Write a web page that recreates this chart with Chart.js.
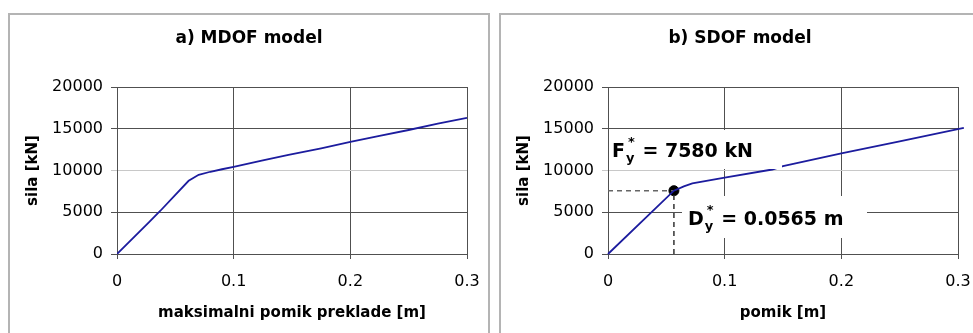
<!DOCTYPE html>
<html>
<head>
<meta charset="utf-8">
<script src="https://cdn.jsdelivr.net/npm/chart.js@4.4.1/dist/chart.umd.min.js"></script>
<style>
    html, body { margin: 0; padding: 0; background: #fff; width: 973px; height: 333px; overflow: hidden; }
    .panel { position: absolute; top: 13px; border: 2px solid #b4b4b4; background: #fff; height: 340px; }
    #panel-a { left: 8px; width: 478px; }
    #panel-b { left: 499px; width: 478px; }
    .panel canvas { position: absolute; left: 0; top: 0; }
</style>
</head>
<body>
<div class="panel" id="panel-a"><canvas id="chart-a" width="478" height="318"></canvas></div>
<div class="panel" id="panel-b"><canvas id="chart-b" width="478" height="318"></canvas></div>
<script>
// a) MDOF - sila vs. maksimalni pomik preklade
const mdofX = [0, 0.0273, 0.0372, 0.05, 0.0614, 0.065, 0.07, 0.08, 0.09, 0.1, 0.125, 0.147, 0.175, 0.2, 0.225, 0.25, 0.275, 0.3];
const mdofY = [0, 3800, 5180, 7080, 8770, 9070, 9490, 9850, 10150, 10440, 11200, 11860, 12650, 13430, 14150, 14850, 15600, 16300];

// b) SDOF - bilinearna krivulja
const sdofX = [0, 0.0565, 0.065, 0.0723, 0.1, 0.1408, 0.15, 0.2, 0.25, 0.305];
const sdofY = [0, 7580, 8100, 8450, 9150, 10120, 10520, 12040, 13500, 15100];

// tocka popustanja
const yieldD = 0.0565;
const yieldF = 7580;

const xTicks = [0, 0.1, 0.2, 0.3];
const yTicks = [0, 5000, 10000, 15000, 20000];

const FONT = "'DejaVu Sans', sans-serif";
const LINE_COLOR = '#1c1c9e';

function toPoints(xs, ys) {
    return xs.map((x, i) => ({ x: x, y: ys[i] }));
}

function gridColor(ctx) {
    // linija na 10000 je svjetlija
    if (ctx.tick && ctx.tick.value === 10000) return '#c8c8c8';
    return '#505050';
}

function makeOptions(title, xTitle) {
    return {
        responsive: false,
        animation: false,
        layout: { padding: 0 },
        plugins: {
            legend: { display: false },
            tooltip: { enabled: false },
            title: {
                display: true,
                text: title,
                color: '#000',
                font: { family: FONT, size: 17, weight: 'bold' },
                padding: { top: 13, bottom: 38.6 }
            }
        },
        scales: {
            x: {
                type: 'linear',
                min: 0,
                max: 0.3,
                afterBuildTicks: scale => { scale.ticks = xTicks.map(v => ({ value: v })); },
                afterFit: scale => {
                    scale.height = 79;
                    scale.paddingLeft = 0;
                    scale.paddingRight = 21;
                },
                ticks: {
                    color: '#000',
                    font: { family: FONT, size: 16 },
                    padding: 13,
                    callback: v => String(v)
                },
                grid: { color: '#505050', tickColor: '#505050', tickLength: 5, lineWidth: 1 },
                border: { color: '#505050' },
                title: {
                    display: true,
                    text: xTitle,
                    color: '#000',
                    font: { family: FONT, size: 15, weight: 'bold' },
                    padding: { top: 0, bottom: 11 }
                }
            },
            y: {
                type: 'linear',
                min: 0,
                max: 20000,
                afterBuildTicks: scale => { scale.ticks = yTicks.map(v => ({ value: v })); },
                afterFit: scale => { scale.width = 107; },
                ticks: {
                    color: '#000',
                    font: { family: FONT, size: 16 },
                    padding: 8,
                    callback: v => String(v)
                },
                grid: { color: gridColor, tickColor: gridColor, tickLength: 6, lineWidth: 1 },
                border: { color: '#505050' },
                title: {
                    display: true,
                    text: 'sila [kN]',
                    color: '#000',
                    font: { family: FONT, size: 15, weight: 'bold', lineHeight: 1 },
                    padding: { top: 15.5, bottom: 0 }
                }
            }
        }
    };
}

// natpisi F_y* i D_y* s bijelom pozadinom
function drawLabel(ctx, x, y, main, sub, rest) {
    ctx.save();
    ctx.fillStyle = '#000';
    ctx.textBaseline = 'alphabetic';
    ctx.textAlign = 'left';
    ctx.font = 'bold 19px ' + FONT;
    ctx.fillText(main, x, y);
    let cx = x + ctx.measureText(main).width + 1;
    ctx.font = 'bold 13px ' + FONT;
    ctx.fillText(sub, cx, y + 5);
    ctx.fillText('*', cx + 2, y - 11);
    cx += Math.max(ctx.measureText(sub).width, ctx.measureText('*').width + 2) + 1;
    ctx.font = 'bold 19px ' + FONT;
    ctx.fillText(rest, cx, y);
    ctx.restore();
}

const yieldLabels = {
    id: 'yieldLabels',
    afterDatasetsDraw(chart) {
        const ctx = chart.ctx;
        const area = chart.chartArea;
        ctx.save();
        ctx.fillStyle = '#fff';
        ctx.fillRect(area.left + 1, area.top + 43, 173, 39);
        ctx.fillRect(area.left + 74, area.top + 109, 185, 42);
        ctx.restore();
        drawLabel(ctx, area.left + 4, area.top + 70, 'F', 'y', ' = ' + yieldF + ' kN');
        drawLabel(ctx, area.left + 80, area.top + 138, 'D', 'y', ' = ' + yieldD + ' m');
    }
};

new Chart(document.getElementById('chart-a'), {
    type: 'scatter',
    data: {
        datasets: [{
            data: toPoints(mdofX, mdofY),
            showLine: true,
            borderColor: LINE_COLOR,
            borderWidth: 1.8,
            pointRadius: 0,
            tension: 0
        }]
    },
    options: makeOptions('a) MDOF model', 'maksimalni pomik preklade [m]')
});

new Chart(document.getElementById('chart-b'), {
    type: 'scatter',
    data: {
        datasets: [
            {
                data: toPoints(sdofX, sdofY),
                showLine: true,
                borderColor: LINE_COLOR,
                borderWidth: 1.8,
                pointRadius: 0,
                tension: 0,
                clip: 10
            },
            {
                data: [{ x: 0, y: yieldF }, { x: yieldD, y: yieldF }],
                showLine: true,
                borderColor: '#666',
                borderWidth: 1.5,
                borderDash: [5, 4],
                pointRadius: 0
            },
            {
                data: [{ x: yieldD, y: 0 }, { x: yieldD, y: yieldF }],
                showLine: true,
                borderColor: '#333',
                borderWidth: 1.5,
                borderDash: [5, 4],
                pointRadius: 0
            },
            {
                data: [{ x: yieldD, y: yieldF }],
                pointRadius: 5,
                pointBackgroundColor: '#000',
                pointBorderColor: '#000'
            }
        ]
    },
    options: makeOptions('b) SDOF model', 'pomik [m]'),
    plugins: [yieldLabels]
});
</script>
</body>
</html>
